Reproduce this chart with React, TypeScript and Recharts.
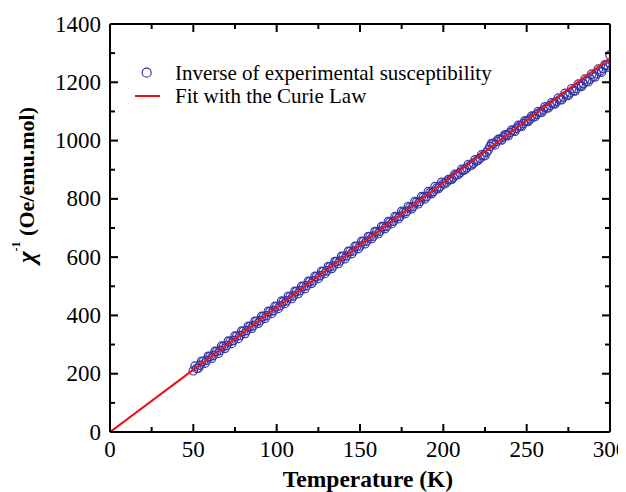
import React from "react";
import { ComposedChart, Scatter, Line, XAxis, YAxis, Legend } from "recharts";

const temps = [
  50, 52, 54, 56, 58, 60, 62, 64, 66, 68, 70, 72, 74, 76, 78, 80, 82, 84, 86, 88,
  90, 92, 94, 96, 98, 100, 102, 104, 106, 108, 110, 112, 114, 116, 118, 120, 122, 124, 126, 128,
  130, 132, 134, 136, 138, 140, 142, 144, 146, 148, 150, 152, 154, 156, 158, 160, 162, 164, 166, 168,
  170, 172, 174, 176, 178, 180, 182, 184, 186, 188, 190, 192, 194, 196, 198, 200, 202, 204, 206, 208,
  210, 212, 214, 216, 218, 220, 222, 224, 226, 228, 230, 232, 234, 236, 238, 240, 242, 244, 246, 248,
  250, 252, 254, 256, 258, 260, 262, 264, 266, 268, 270, 272, 274, 276, 278, 280, 282, 284, 286, 288,
  290, 292, 294, 296, 298, 300, 300,
];
const invChi = [
  210, 218, 229, 242, 246, 259, 263, 276, 280, 293, 297, 310, 314, 328, 331, 345, 348, 362, 365, 379,
  382, 396, 399, 413, 416, 430, 433, 447, 450, 464, 467, 482, 485, 499, 502, 516, 519, 533, 536, 550,
  553, 567, 570, 585, 587, 602, 604, 619, 621, 636, 638, 653, 655, 670, 672, 687, 689, 704, 706, 720,
  723, 737, 740, 754, 757, 771, 774, 788, 791, 805, 808, 821, 825, 837, 842, 852, 858, 866, 874, 882,
  890, 898, 906, 914, 922, 930, 939, 948, 960, 980, 990, 997, 1004, 1012, 1019, 1027, 1034, 1042, 1050, 1058,
  1066, 1074, 1082, 1090, 1097, 1105, 1112, 1120, 1127, 1134, 1141, 1149, 1156, 1164, 1171, 1179, 1187, 1195, 1203, 1211,
  1220, 1229, 1238, 1247, 1258, 1294, 1266,
];
const tempsOdd = [
  51, 53, 55, 57, 59, 61, 63, 65, 67, 69, 71, 73, 75, 77, 79, 81, 83, 85, 87, 89,
  91, 93, 95, 97, 99, 101, 103, 105, 107, 109, 111, 113, 115, 117, 119, 121, 123, 125, 127, 129,
  131, 133, 135, 137, 139, 141, 143, 145, 147, 149, 151, 153, 155, 157, 159, 161, 163, 165, 167, 169,
  171, 173, 175, 177, 179, 181, 183, 185, 187, 189, 191, 193, 195, 197, 199, 201, 203, 205, 207, 209,
  211, 213, 215, 217, 219, 221, 223, 225, 227, 229, 231, 233, 235, 237, 239, 241, 243, 245, 247, 249,
  251, 253, 255, 257, 259, 261, 263, 265, 267, 269, 271, 273, 275, 277, 279, 281, 283, 285, 287, 289,
  291, 293, 295, 297, 299,
];
const invChiOdd = [
  226, 219, 243, 236, 260, 253, 277, 270, 295, 287, 312, 304, 329, 321, 346, 338, 363, 356, 380, 373,
  397, 390, 414, 407, 431, 424, 449, 441, 466, 458, 483, 475, 500, 492, 517, 510, 534, 527, 551, 544,
  568, 561, 585, 578, 603, 595, 620, 612, 637, 629, 654, 646, 671, 664, 688, 681, 705, 698, 722, 715,
  739, 732, 757, 749, 774, 766, 791, 783, 808, 800, 825, 818, 842, 835, 857, 852, 866, 867, 884, 884,
  901, 900, 918, 916, 934, 933, 951, 948, 968, 990, 985, 1004, 1002, 1020, 1017, 1036, 1032, 1052, 1049, 1068,
  1066, 1084, 1082, 1100, 1097, 1116, 1112, 1130, 1126, 1146, 1140, 1162, 1155, 1178, 1170, 1194, 1186, 1211, 1202, 1228,
  1218, 1245, 1235, 1260, 1252,
];
const fitTemps = [0, 300];
const fitValues = [0, 1283];

const xTicks = [0, 25, 50, 75, 100, 125, 150, 175, 200, 225, 250, 275, 300];
const yTicks = [0, 100, 200, 300, 400, 500, 600, 700, 800, 900, 1000, 1100, 1200, 1300, 1400];

const expData = temps
  .map((t, i) => ({ t, v: invChi[i] }))
  .concat(tempsOdd.map((t, i) => ({ t, v: invChiOdd[i] })));
const fitData = fitTemps.map((t, i) => ({ t, v: fitValues[i] }));

const FONT = "'Liberation Serif', 'Times New Roman', serif";
const TICK_FS = 23;

const BottomTick = (p: any) => {
  const { x, y, payload } = p;
  const major = payload.value % 50 === 0;
  return (
    <g>
      <line x1={x} x2={x} y1={y} y2={y - (major ? 8 : 5)} stroke="#000" strokeWidth={2} />
      {major && (
        <text x={x} y={y + 25} textAnchor="middle" fontFamily={FONT} fontSize={TICK_FS} fill="#000">
          {payload.value}
        </text>
      )}
    </g>
  );
};
const TopTick = (p: any) => {
  const { x, y, payload } = p;
  const major = payload.value % 50 === 0;
  return <line x1={x} x2={x} y1={y} y2={y + (major ? 8 : 5)} stroke="#000" strokeWidth={2} />;
};
const LeftTick = (p: any) => {
  const { x, y, payload } = p;
  const major = payload.value % 200 === 0;
  return (
    <g>
      <line x1={x} x2={x + (major ? 8 : 5)} y1={y} y2={y} stroke="#000" strokeWidth={2} />
      {major && (
        <text x={x - 9} y={y} dy="0.33em" textAnchor="end" fontFamily={FONT} fontSize={TICK_FS} fill="#000">
          {payload.value}
        </text>
      )}
    </g>
  );
};
const RightTick = (p: any) => {
  const { x, y, payload } = p;
  const major = payload.value % 200 === 0;
  return <line x1={x} x2={x - (major ? 8 : 5)} y1={y} y2={y} stroke="#000" strokeWidth={2} />;
};

const Circle = (p: any) => {
  const { cx, cy } = p;
  return <circle cx={cx} cy={cy} r={4.2} fill="none" stroke="#3535a6" strokeWidth={1.2} />;
};

const XTitle = (p: any) => {
  const vb = p.viewBox;
  return (
    <text x={vb.x + vb.width / 2 + 8} y={vb.y + 55} textAnchor="middle" fontFamily={FONT} fontWeight="bold" fontSize={23.5} fill="#000">
      Temperature (K)
    </text>
  );
};
const YTitle = (p: any) => {
  const vb = p.viewBox;
  const cx = vb.x - 24;
  const cy = vb.y + vb.height / 2 - 43;
  return (
    <text x={cx} y={cy} transform={`rotate(-90, ${cx}, ${cy})`} textAnchor="middle" dominantBaseline="central" fontFamily={FONT} fontWeight="bold" fontSize={22} fill="#000">
      <tspan fontStyle="italic" fontSize={25}>χ</tspan>
      <tspan fontSize={12} dy={-10}>-1</tspan>
      <tspan dy={10}> (Oe/emu.mol)</tspan>
    </text>
  );
};

const LegendBox = () => (
  <svg width={420} height={50} style={{ display: "block" }}>
    <circle cx={18.7} cy={12.7} r={4.5} fill="none" stroke="#3535a6" strokeWidth={1.2} />
    <text x={47} y={12.7} dy="0.33em" fontFamily={FONT} fontSize={21} fill="#000">
      Inverse of experimental susceptibility
    </text>
    <line x1={7} x2={32} y1={36} y2={36} stroke="#e8141c" strokeWidth={2} />
    <text x={47} y={36} dy="0.33em" fontFamily={FONT} fontSize={21} fill="#000">
      Fit with the Curie Law
    </text>
  </svg>
);

export default function App() {
  return (
    <ComposedChart width={618} height={484} margin={{ top: 15, right: 15, bottom: 30, left: 42 }}>
      <XAxis
        xAxisId={0}
        dataKey="t"
        type="number"
        domain={[0, 300]}
        ticks={xTicks}
        interval={0}
        height={30}
        tickSize={0}
        tickMargin={0}
        tickLine={false}
        tick={<BottomTick />}
        axisLine={{ stroke: "#000", strokeWidth: 2 }}
        allowDataOverflow
        label={{ content: <XTitle /> }}
      />
      <XAxis
        xAxisId="top"
        orientation="top"
        dataKey="t"
        type="number"
        domain={[0, 300]}
        ticks={xTicks}
        interval={0}
        height={1}
        tickSize={0}
        tickMargin={0}
        tickLine={false}
        tick={<TopTick />}
        axisLine={{ stroke: "#000", strokeWidth: 2 }}
        allowDataOverflow
      />
      <YAxis
        yAxisId={0}
        type="number"
        domain={[0, 1400]}
        ticks={yTicks}
        interval={0}
        width={60}
        tickSize={0}
        tickMargin={0}
        tickLine={false}
        tick={<LeftTick />}
        axisLine={{ stroke: "#000", strokeWidth: 2 }}
        allowDataOverflow
        label={{ content: <YTitle /> }}
      />
      <YAxis
        yAxisId="right"
        orientation="right"
        type="number"
        domain={[0, 1400]}
        ticks={yTicks}
        interval={0}
        width={1}
        tickSize={0}
        tickMargin={0}
        tickLine={false}
        tick={<RightTick />}
        axisLine={{ stroke: "#000", strokeWidth: 2 }}
        allowDataOverflow
      />
      <Legend
        layout="vertical"
        align="center"
        verticalAlign="middle"
        wrapperStyle={{ left: 120, top: 52, width: 420, height: 50 }}
        content={<LegendBox />}
      />
      <Scatter data={expData} dataKey="v" shape={<Circle />} isAnimationActive={false} zIndex={500} />
      <Line data={fitData} dataKey="v" stroke="#e8141c" strokeWidth={2.2} dot={false} isAnimationActive={false} zIndex={1000} />
    </ComposedChart>
  );
}
